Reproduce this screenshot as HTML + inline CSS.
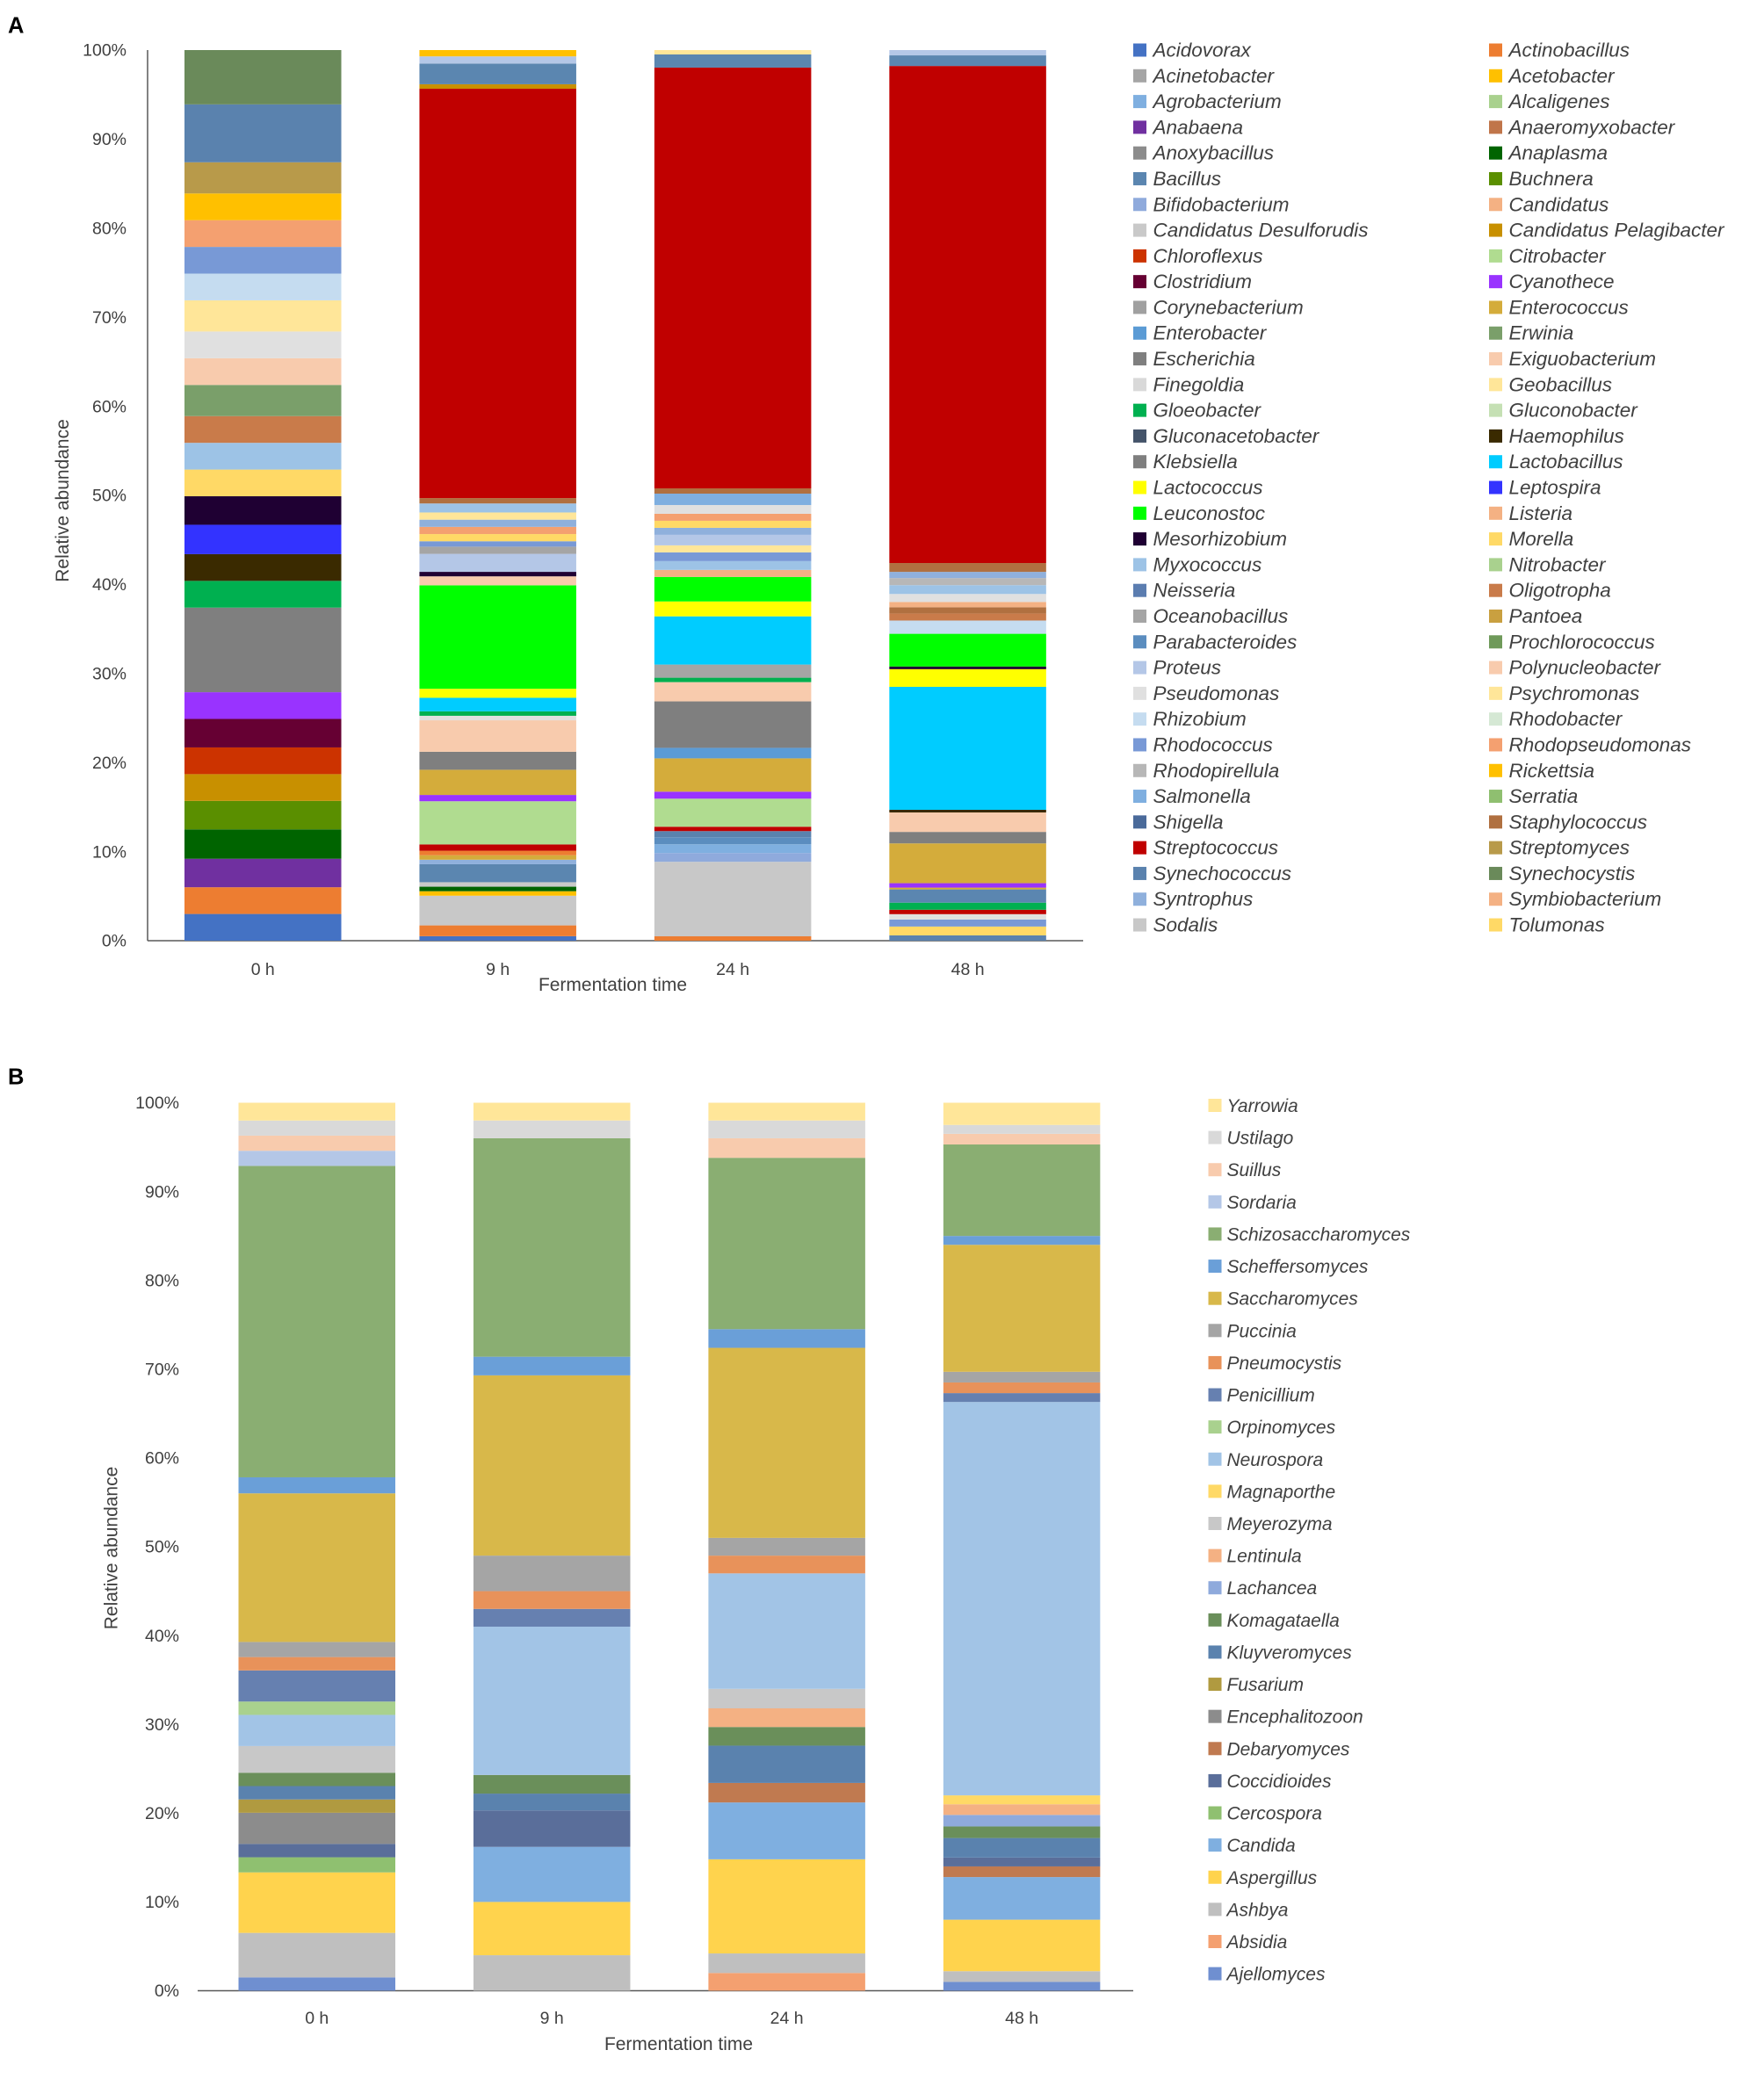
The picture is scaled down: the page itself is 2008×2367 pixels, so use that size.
<!DOCTYPE html>
<html><head><meta charset="utf-8"><style>
html,body{margin:0;padding:0;background:#fff}
svg{display:block}
text{font-family:"Liberation Sans",sans-serif;fill:#404040}
.lg{font-style:italic}
</style></head><body>
<svg id="chart" width="2008" height="2367" viewBox="0 0 1338.67 1578" xmlns="http://www.w3.org/2000/svg">
<text x="6" y="25" font-size="17" font-weight="bold" style="fill:#000">A</text>
<text x="6" y="823" font-size="17" font-weight="bold" style="fill:#000">B</text>
<g id="gA"></g>
<g id="gB"></g>
</svg>
<script>
const NS="http://www.w3.org/2000/svg";
const categories=["0 h","9 h","24 h","48 h"];
const yTicks=["0%","10%","20%","30%","40%","50%","60%","70%","80%","90%","100%"];

const generaA=["Acidovorax","Actinobacillus","Acinetobacter","Acetobacter","Agrobacterium","Alcaligenes","Anabaena","Anaeromyxobacter","Anoxybacillus","Anaplasma","Bacillus","Buchnera","Bifidobacterium","Candidatus","Candidatus Desulforudis","Candidatus Pelagibacter","Chloroflexus","Citrobacter","Clostridium","Cyanothece","Corynebacterium","Enterococcus","Enterobacter","Erwinia","Escherichia","Exiguobacterium","Finegoldia","Geobacillus","Gloeobacter","Gluconobacter","Gluconacetobacter","Haemophilus","Klebsiella","Lactobacillus","Lactococcus","Leptospira","Leuconostoc","Listeria","Mesorhizobium","Morella","Myxococcus","Nitrobacter","Neisseria","Oligotropha","Oceanobacillus","Pantoea","Parabacteroides","Prochlorococcus","Proteus","Polynucleobacter","Pseudomonas","Psychromonas","Rhizobium","Rhodobacter","Rhodococcus","Rhodopseudomonas","Rhodopirellula","Rickettsia","Salmonella","Serratia","Shigella","Staphylococcus","Streptococcus","Streptomyces","Synechococcus","Synechocystis","Syntrophus","Symbiobacterium","Sodalis","Tolumonas"];
const colorsA=["#4472C4","#ED7D31","#A5A5A5","#FFC000","#7FAFE0","#A9D18E","#7030A0","#C0754A","#8C8C8C","#006400","#5B86B0","#5A8F00","#8FAADC","#F4B183","#C9C9C9","#C89000","#CC3300","#B0DC90","#660033","#9933FF","#A0A0A0","#D4AC3B","#5B9BD5","#7A9F6A","#7F7F7F","#F8CBAD","#D9D9D9","#FFE699","#00B050","#C5E0B4","#44546A","#3A2A00","#7F7F7F","#00CCFF","#FFFF00","#3333FF","#00FF00","#F4B183","#1F0033","#FFD966","#9DC3E6","#A9D18E","#5B7DB0","#C97B4A","#A5A5A5","#C9A040","#5B8DBF","#6F9A5A","#B4C7E7","#F8CBAD","#E0E0E0","#FFE699","#C5DCF0","#D5E8D4","#7899D6","#F4A070","#B7B7B7","#FFC000","#7FAFE0","#8FBF70","#4A6A9A","#B07040","#C00000","#B89A4A","#5A82AE","#6A8A5A","#8FB0DC","#F4B183","#C8C8C8","#FFD966"];

const a0hGenus=["Acidovorax","Actinobacillus","Anabaena","Anaplasma","Buchnera","Candidatus Pelagibacter","Chloroflexus","Clostridium","Cyanothece","Klebsiella","Gloeobacter","Haemophilus","Leptospira","Mesorhizobium","Morella","Myxococcus","Oligotropha","Erwinia","Polynucleobacter","Pseudomonas","Psychromonas","Rhizobium","Rhodococcus","Rhodopseudomonas","Rickettsia","Streptomyces","Synechococcus","Synechocystis"];
const a0hVals=[3,3,3.2,3.3,3.2,3,3,3.2,3,9.5,3,3,3.3,3.2,3,3,3,3.5,3,3,3.5,3,3,3,3,3.5,6.5,6.1];
const a9hGenus=["Acidovorax","Actinobacillus","Sodalis","Acetobacter","Anaplasma","Candidatus Desulforudis","Bacillus","Syntrophus","Enterococcus","Actinobacillus","Streptococcus","Citrobacter","Cyanothece","Enterococcus","Klebsiella","Exiguobacterium","Pseudomonas","Gloeobacter","Lactobacillus","Lactococcus","Leuconostoc","Polynucleobacter","Mesorhizobium","Proteus","Oceanobacillus","Rhodococcus","Morella","Rhodopseudomonas","Syntrophus","Geobacillus","Myxococcus","Staphylococcus","Streptococcus","Candidatus Pelagibacter","Bacillus","Proteus","Acetobacter"];
const a9hVals=[0.5,1.2,3.3,0.5,0.5,0.5,2,0.5,0.5,0.5,0.7,4.8,0.7,2.8,2,3.5,0.5,0.5,1.5,1,11.5,1,0.5,2,0.8,0.6,0.8,0.8,0.8,0.8,1,0.6,45.5,0.5,2.3,0.8,0.7];
const a24hGenus=["Actinobacillus","Sodalis","Bifidobacterium","Salmonella","Parabacteroides","Synechococcus","Streptococcus","Citrobacter","Cyanothece","Enterococcus","Enterobacter","Klebsiella","Exiguobacterium","Gloeobacter","Oceanobacillus","Lactobacillus","Lactococcus","Leuconostoc","Candidatus","Myxococcus","Rhodococcus","Geobacillus","Proteus","Syntrophus","Morella","Rhodopseudomonas","Pseudomonas","Salmonella","Staphylococcus","Streptococcus","Bacillus","Geobacillus"];
const a24hVals=[0.5,8.5,1,1,0.8,0.7,0.5,3.2,0.8,3.8,1.2,5.3,2.2,0.5,1.5,5.5,1.7,2.8,0.8,1,1,0.8,1.2,0.8,0.8,0.8,1,1.3,0.6,48,1.5,0.5];
const a48hGenus=["Synechococcus","Morella","Rhodococcus","Pseudomonas","Streptococcus","Gloeobacter","Bacillus","Enterococcus","Cyanothece","Enterococcus","Klebsiella","Exiguobacterium","Haemophilus","Lactobacillus","Lactococcus","Mesorhizobium","Leuconostoc","Rhizobium","Oligotropha","Staphylococcus","Candidatus","Pseudomonas","Myxococcus","Rhodopirellula","Syntrophus","Staphylococcus","Streptococcus","Bacillus","Proteus"];
const a48hVals=[0.6,1,0.8,0.6,0.5,0.8,1.5,0.2,0.5,4.5,1.3,2.2,0.3,13.9,2,0.3,3.7,1.5,0.8,0.7,0.6,0.9,1,0.8,0.7,1,56.2,1.2,0.6];

const generaB=["Ajellomyces","Absidia","Ashbya","Aspergillus","Candida","Cercospora","Coccidioides","Debaryomyces","Encephalitozoon","Fusarium","Kluyveromyces","Komagataella","Lachancea","Lentinula","Meyerozyma","Magnaporthe","Neurospora","Orpinomyces","Penicillium","Pneumocystis","Puccinia","Saccharomyces","Scheffersomyces","Schizosaccharomyces","Sordaria","Suillus","Ustilago","Yarrowia"];
const colorsB=["#6F8FD0","#F4A070","#BFBFBF","#FFD34D","#7FAFE0","#8FC070","#5A6E9A","#C07A50","#8C8C8C","#B09A40","#5A82AE","#6A8F5A","#8FAADC","#F4B183","#C8C8C8","#FFD966","#A2C4E6","#A9D18E","#6680B0","#E8925A","#A5A5A5","#D8B84A","#6A9FD8","#8AAE72","#B4C7E7","#F8CBAD","#D9D9D9","#FFE699"];
const b0hGenus=["Ajellomyces","Ashbya","Aspergillus","Cercospora","Coccidioides","Encephalitozoon","Fusarium","Kluyveromyces","Komagataella","Meyerozyma","Neurospora","Orpinomyces","Penicillium","Pneumocystis","Puccinia","Saccharomyces","Scheffersomyces","Schizosaccharomyces","Sordaria","Suillus","Ustilago","Yarrowia"];
const b0hVals=[1.5,5,6.8,1.7,1.5,3.5,1.5,1.5,1.5,3,3.5,1.5,3.5,1.5,1.7,16.7,1.8,35,1.7,1.7,1.7,2];
const b9hGenus=["Ashbya","Aspergillus","Candida","Coccidioides","Kluyveromyces","Komagataella","Neurospora","Penicillium","Pneumocystis","Puccinia","Saccharomyces","Scheffersomyces","Schizosaccharomyces","Ustilago","Yarrowia"];
const b9hVals=[4,6,6.2,4.1,1.9,2.1,16.7,2,2,4,20.3,2.1,24.6,2,2];
const b24hGenus=["Absidia","Ashbya","Aspergillus","Candida","Debaryomyces","Kluyveromyces","Komagataella","Lentinula","Meyerozyma","Neurospora","Pneumocystis","Puccinia","Saccharomyces","Scheffersomyces","Schizosaccharomyces","Suillus","Ustilago","Yarrowia"];
const b24hVals=[2,2.2,10.6,6.4,2.2,4.2,2.1,2.1,2.2,13,2,2,21.4,2.1,19.3,2.2,2,2];
const b48hGenus=["Ajellomyces","Ashbya","Aspergillus","Candida","Debaryomyces","Coccidioides","Kluyveromyces","Komagataella","Lachancea","Lentinula","Magnaporthe","Neurospora","Penicillium","Pneumocystis","Puccinia","Saccharomyces","Scheffersomyces","Schizosaccharomyces","Suillus","Ustilago","Yarrowia"];
const b48hVals=[1,1.2,5.8,4.8,1.2,1,2.2,1.3,1.3,1.2,1,44.3,1,1.2,1.2,14.3,1,10.3,1.2,1,2.5];

function el(tag,attrs,parent,txt){const e=document.createElementNS(NS,tag);for(const k in attrs)e.setAttribute(k,attrs[k]);if(txt!==undefined)e.textContent=txt;parent.appendChild(e);return e;}

function drawPanel(g,cfg){
  const y=v=>cfg.y0-(cfg.y0-cfg.y100)*v/100;
  const x=i=>cfg.x0+cfg.step*i;
  if(cfg.yLine){const l=el('line',{x1:cfg.axisX,x2:cfg.axisX,y1:y(0),y2:y(100),stroke:'#595959','stroke-width':1},g);
    
    }
  const xl=el('line',{x1:cfg.axisX,x2:cfg.axisEnd,y1:y(0),y2:y(0),stroke:'#595959','stroke-width':1},g);
  
  
  yTicks.forEach((t,i)=>{
    const tt=el('text',{x:cfg.tickX,y:y(i*10)+4.5,'font-size':13,'text-anchor':'end'},g,t);
    
    
  });
  categories.forEach((c,i)=>{
    const tt=el('text',{x:x(i)+cfg.bw/2,y:cfg.catY,'font-size':13,'text-anchor':'middle'},g,c);
    
    
    const gs=cfg.bars[i][0],vs=cfg.bars[i][1];
    const total=vs.reduce((a,b)=>a+b,0);
    let cum=0;
    vs.forEach((raw,k)=>{
      const v=raw/total*100;
      const col=cfg.colors[cfg.genera.indexOf(gs[k])];
      const r=el('rect',{x:x(i),y:y(cum+v),width:cfg.bw,height:Math.max(0,y(cum)-y(cum+v)),fill:col},g);
      
      
      cum+=v;
    });
  });
  const xt=el('text',{x:cfg.xtX,y:cfg.xtY,'font-size':14,'text-anchor':'middle'},g,'Fermentation time');
  
  
  const yt=el('text',{x:0,y:0,'font-size':14,'text-anchor':'middle',transform:`translate(${cfg.ytX},${cfg.ytY}) rotate(-90)`},g,'Relative abundance');
  
  
}

const gA=document.getElementById('gA');
drawPanel(gA,{y0:714,y100:38,x0:140,step:178.3,bw:119,axisX:112,axisEnd:822,yLine:true,tickX:96,catY:740,xtX:465,xtY:752,ytX:52,ytY:380,
  genera:generaA,colors:colorsA,bars:[[a0hGenus,a0hVals],[a9hGenus,a9hVals],[a24hGenus,a24hVals],[a48hGenus,a48hVals]]});
generaA.forEach((n,i)=>{
  const col=i%2,row=Math.floor(i/2);
  const lx=col?1130:860, ly=38+row*19.53;
  const s=el('rect',{x:lx,y:ly-5,width:10,height:10,fill:colorsA[i]},gA);
  
  
  const t=el('text',{x:lx+15,y:ly+5,'font-size':15,class:'lg'},gA,n);
  
  
});

const gB=document.getElementById('gB');
drawPanel(gB,{y0:1511,y100:837,x0:181,step:178.3,bw:119,axisX:150,axisEnd:860,yLine:false,tickX:136,catY:1536,xtX:515,xtY:1556,ytX:89,ytY:1175,
  genera:generaB,colors:colorsB,bars:[[b0hGenus,b0hVals],[b9hGenus,b9hVals],[b24hGenus,b24hVals],[b48hGenus,b48hVals]]});
generaB.slice().reverse().forEach((n,i)=>{
  const idx=generaB.length-1-i;
  const ly=839+i*24.41;
  const s=el('rect',{x:917,y:ly-5,width:10,height:10,fill:colorsB[idx]},gB);
  
  
  const t=el('text',{x:931,y:ly+5,'font-size':14,class:'lg'},gB,n);
  
  
});
</script>
</body></html>
